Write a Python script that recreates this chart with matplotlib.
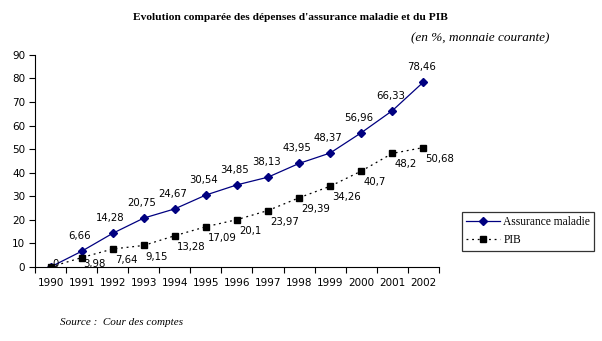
import matplotlib
matplotlib.use('Agg')
import matplotlib.pyplot as plt

years = ['1990', '1991', '1992', '1993', '1994', '1995', '1996',
         '1997', '1998', '1999', '2000', '2001', '2002']
assurance = [0, 6.66, 14.28, 20.75, 24.67, 30.54, 34.85,
             38.13, 43.95, 48.37, 56.96, 66.33, 78.46]
pib = [0, 3.98, 7.64, 9.15, 13.28, 17.09, 20.1,
       23.97, 29.39, 34.26, 40.7, 48.2, 50.68]
yticks = [0, 10, 20, 30, 40, 50, 60, 70, 80, 90]

def fr(v):
    # french decimal comma, no trailing zeros
    return ('%g' % v).replace('.', ',')

fig = plt.figure(figsize=(6.02, 3.41), dpi=100)
ax = fig.add_axes([0.0581, 0.217, 0.671, 0.622])

x = list(range(len(years)))
l1, = ax.plot(x, assurance, color='#000080', linewidth=0.9, marker='D',
              markersize=4.2, label='Assurance maladie')
l2, = ax.plot(x, pib, color='black', linewidth=0.9, linestyle=(0, (1.5, 3)),
              marker='s', markersize=5, label='PIB')

# labels above the blue points (the 0 at 1990 is not shown)
for i, v in enumerate(assurance):
    if i == 0:
        continue
    ax.annotate(fr(v), (i, v), xytext=(-2, 15), textcoords='offset pixels',
                ha='center', va='center', fontsize=7.3, family='DejaVu Sans')
# labels below the black points, kept inside the plot area
for i, v in enumerate(pib):
    ax.annotate(fr(v), (i, max(v - 4.7, 1.3)), xytext=(2, 0), textcoords='offset pixels',
                ha='left', va='center', fontsize=7.3, family='DejaVu Sans')

ax.set_xlim(-0.5, len(years) - 0.5)
ax.set_ylim(0, 90)
ax.set_yticks(yticks)
ax.set_xticks(x)
ax.set_xticklabels(years)
ax.set_xticks([i - 0.5 for i in range(len(years) + 1)], minor=True)
ax.tick_params(axis='x', which='major', length=0, pad=8, labelsize=7.5)
ax.tick_params(axis='x', which='minor', length=4, width=0.8, direction='out')
ax.tick_params(axis='y', length=4, width=0.8, direction='out', labelsize=7.5, pad=3)
for s in ['top', 'right']:
    ax.spines[s].set_visible(False)
for s in ['left', 'bottom']:
    ax.spines[s].set_linewidth(0.8)

leg = fig.legend(handles=[l1, l2], loc='upper left', bbox_to_anchor=(0.767, 0.378),
                 prop={'family': 'Liberation Serif', 'size': 8.3}, frameon=True,
                 fancybox=False, edgecolor='black', borderpad=0.35, handlelength=3.0,
                 handletextpad=0.25, labelspacing=0.55, borderaxespad=0)
leg.get_frame().set_linewidth(0.9)

fig.text(0.482, 0.95, "Evolution comparée des dépenses d'assurance maladie et du PIB",
         ha='center', va='center', fontsize=8.2, fontweight='bold', family='Liberation Serif')
fig.text(0.912, 0.888, '(en %, monnaie courante)', ha='right', va='center',
         fontsize=9.5, style='italic', family='Liberation Serif')
fig.text(0.1, 0.055, 'Source :  Cour des comptes', ha='left', va='center',
         fontsize=8, style='italic', family='Liberation Serif')

fig.savefig('out.png', dpi=100)
